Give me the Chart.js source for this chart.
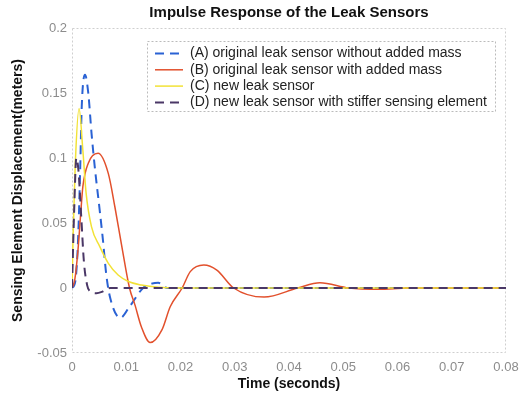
<!DOCTYPE html>
<html>
<head>
<meta charset="utf-8">
<script src="https://cdn.jsdelivr.net/npm/chart.js@4/dist/chart.umd.min.js"></script>
<style>
  html, body { margin: 0; padding: 0; background: #fff; }
  #wrap { width: 524px; height: 398px; }
</style>
</head>
<body>
<div id="wrap"><canvas id="chart"></canvas></div>
<script>
// tick positions
const xTicks = [0, 0.01, 0.02, 0.03, 0.04, 0.05, 0.06, 0.07, 0.08]
const yTicks = [-0.05, 0, 0.05, 0.1, 0.15, 0.2]

const labels = [
  '(A) original leak sensor without added mass',
  '(B) original leak sensor with added mass',
  '(C) new leak sensor',
  '(D) new leak sensor with stiffer sensing element'
]

// values (time in s, displacement in m)
const timeA = [0, 0.0006, 0.0011, 0.0015, 0.0018, 0.0024, 0.003, 0.0036, 0.0042, 0.0051, 0.0057, 0.0063, 0.007, 0.0089, 0.0105, 0.0131, 0.0148, 0.0159, 0.0176, 0.02, 0.08]
const dispA = [0, 0.005, 0.035, 0.09, 0.14, 0.164, 0.15, 0.119, 0.093, 0.06, 0.037, 0.011, -0.007, -0.023, -0.015, 0, 0.0035, 0.004, 0, 0, 0]

const timeB = [0, 0.0005, 0.0011, 0.0016, 0.002, 0.003, 0.0048, 0.0067, 0.0079, 0.0091, 0.0106, 0.0116, 0.0128, 0.0144, 0.0166, 0.0181, 0.0203, 0.0218, 0.0243, 0.0267, 0.0298, 0.0354, 0.0416, 0.0457, 0.051, 0.0565, 0.062, 0.08]
const dispB = [0, 0.006, 0.029, 0.057, 0.078, 0.096, 0.1036, 0.088, 0.0625, 0.034, 0, -0.013, -0.03, -0.042, -0.032, -0.0144, 0, 0.0126, 0.0177, 0.0138, 0, -0.007, 0, 0.004, 0, -0.001, 0, 0]

const timeC = [0, 0.0002, 0.0006, 0.0013, 0.002, 0.0026, 0.0036, 0.0051, 0.0067, 0.0085, 0.0104, 0.0128, 0.016, 0.02, 0.08]
const dispC = [0, 0.04, 0.095, 0.138, 0.106, 0.073, 0.047, 0.032, 0.019, 0.01, 0.005, 0.0023, 0.0005, 0, 0]

const timeD = [0, 0.0004, 0.0008, 0.0012, 0.0017, 0.0022, 0.0028, 0.0032, 0.0045, 0.0055, 0.007, 0.08]
const dispD = [0, 0.06, 0.1, 0.09, 0.055, 0.02, 0.002, -0.002, -0.004, -0.003, 0, 0]

const pts = (t, v) => t.map((x, i) => ({x: x, y: v[i]}))

const FONT = "'Liberation Sans', Arial, sans-serif"

// box round the plot, title on top of plot area, legend inside
const frame = {
  id: 'frame',
  beforeDatasetsDraw(chart) {
    const {ctx, chartArea: a} = chart
    ctx.save()
    ctx.strokeStyle = '#cfcfcf'
    ctx.lineWidth = 1
    ctx.setLineDash([2, 2])
    ctx.strokeRect(a.left + 0.5, a.top + 0.5, a.width - 1, a.height - 1)
    ctx.restore()
  },
  afterDraw(chart) {
    const {ctx, chartArea: a} = chart
    ctx.save()
    ctx.fillStyle = '#111'
    ctx.font = 'bold 15px ' + FONT
    ctx.textAlign = 'center'
    ctx.textBaseline = 'middle'
    ctx.fillText('Impulse Response of the Leak Sensors', (a.left + a.right) / 2, 13)

    // legend
    const bx = 147, by = 41, bw = 348, bh = 70
    ctx.fillStyle = '#fff'
    ctx.fillRect(bx, by, bw, bh)
    ctx.strokeStyle = '#bbb'
    ctx.lineWidth = 1
    ctx.setLineDash([2, 2])
    ctx.strokeRect(bx + 0.5, by + 0.5, bw, bh)
    ctx.font = '14px ' + FONT
    ctx.textAlign = 'left'
    chart.data.datasets.forEach((ds, i) => {
      const y = by + 12.5 + i * 16.3
      ctx.strokeStyle = ds.borderColor
      ctx.lineWidth = ds.borderWidth
      ctx.setLineDash(ds.borderDash || [])
      ctx.beginPath()
      ctx.moveTo(bx + 8, y)
      ctx.lineTo(bx + 36, y)
      ctx.stroke()
      ctx.fillStyle = '#222'
      ctx.fillText(ds.label, bx + 43, y)
    })
    ctx.restore()
  }
}

const data = {
  datasets: [
    {label: labels[0], data: pts(timeA, dispA), borderColor: '#2a62d4', borderWidth: 2, borderDash: [9, 6], order: 4},
    {label: labels[1], data: pts(timeB, dispB), borderColor: '#e2502c', borderWidth: 1.5, order: 3},
    {label: labels[2], data: pts(timeC, dispC), borderColor: '#f2e236', borderWidth: 1.5, order: 2},
    {label: labels[3], data: pts(timeD, dispD), borderColor: '#4a3766', borderWidth: 2, borderDash: [9, 6], order: 1}
  ]
}

const ctx = document.getElementById('chart').getContext('2d')
const myChart = new Chart(ctx, {
  type: 'line',
  data: data,
  plugins: [frame],
  options: {
    responsive: true,
    maintainAspectRatio: false,
    animation: false,
    layout: { padding: { top: 28, right: 18, left: 0, bottom: 0 } },
    elements: {
      point: { radius: 0 },
      line: { cubicInterpolationMode: 'monotone', fill: false }
    },
    plugins: {
      legend: { display: false },
      tooltip: { enabled: false }
    },
    scales: {
      x: {
        type: 'linear',
        min: 0,
        max: 0.08,
        afterBuildTicks: s => { s.ticks = xTicks.map(v => ({value: v})) },
        afterFit: s => { s.height = 45; s.paddingLeft = 0; s.paddingRight = 0 },
        grid: { display: false, drawTicks: false },
        border: { display: false },
        ticks: { color: '#8c8c8c', font: { size: 13, family: FONT }, padding: 7, maxRotation: 0,
          callback: v => String(v) },
        title: { display: true, text: 'Time (seconds)', color: '#111',
          font: { size: 14, weight: 'bold', family: FONT }, padding: { top: 2, bottom: 5 } }
      },
      y: {
        type: 'linear',
        min: -0.05,
        max: 0.2,
        afterBuildTicks: s => { s.ticks = yTicks.map(v => ({value: v})) },
        afterFit: s => { s.width = 72 },
        grid: { display: false, drawTicks: false },
        border: { display: false },
        ticks: { color: '#8c8c8c', font: { size: 13, family: FONT }, padding: 5,
          callback: v => String(v) },
        title: { display: true, text: 'Sensing Element Displacement(meters)', color: '#111',
          font: { size: 14, weight: 'bold', family: FONT }, padding: { top: 10, bottom: 2 } }
      }
    }
  }
})
</script>
</body>
</html>
